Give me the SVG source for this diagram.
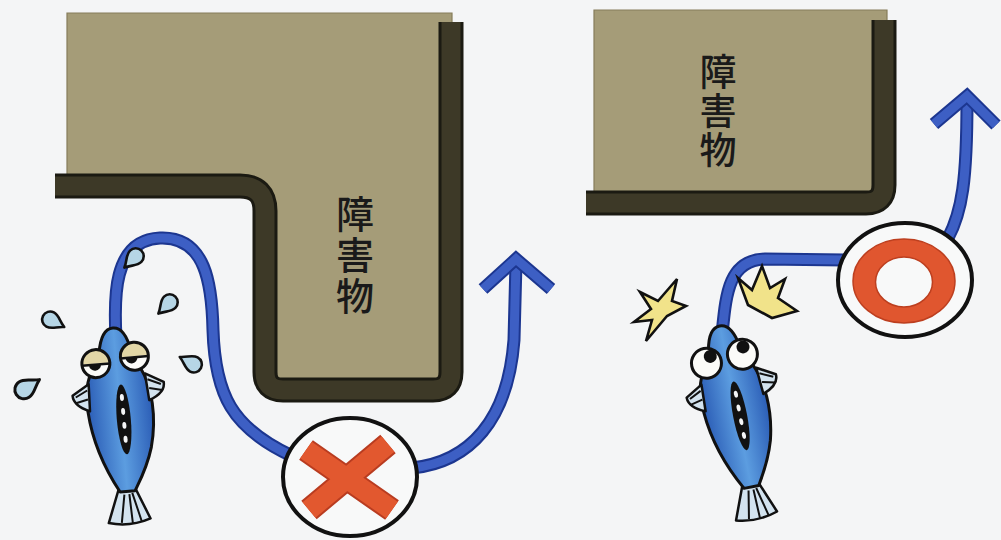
<svg xmlns="http://www.w3.org/2000/svg" width="1001" height="540" viewBox="0 0 1001 540">
  <style>
    .bg{fill:#f4f5f6}
    .block{fill:#a59c78;stroke:#857c5a;stroke-width:1.2}
    .wall-edge{fill:none;stroke:#1b1a12;stroke-width:25}
    .wall-core{fill:none;stroke:#3d3927;stroke-width:19}
    .label{font-family:"Noto Sans CJK JP","Noto Sans CJK SC",sans-serif;font-weight:500;fill:#1a1a1a;writing-mode:vertical-rl}
    .flow-edge{fill:none;stroke:#1c3690;stroke-width:13}
    .flow-core{fill:none;stroke:#3d5fc4;stroke-width:9}
    .ink{stroke:#111;stroke-width:3;stroke-linejoin:round}
    .thin{fill:none;stroke:#111;stroke-width:2}
    .badge{fill:#f8f9f9;stroke:#111;stroke-width:4}
    .cross-edge{stroke:#b93c20;stroke-width:24}
    .cross-core{stroke:#e2582f;stroke-width:20}
    .ring{fill:#e0562f;stroke:#bd3f1f;stroke-width:1.5}
    .drop{fill:#b6d6e6;stroke:#111;stroke-width:2.6;stroke-linejoin:round}
    .spark{fill:#f1e38a;stroke:#111;stroke-width:2.6;stroke-linejoin:miter}
    .fin{fill:#d3e3ef;stroke:#111;stroke-width:2.5;stroke-linejoin:round}
  </style>
  <defs>
    <linearGradient id="scale" x1="0" y1="0" x2="1" y2="0">
      <stop offset="0" stop-color="#2b5db6"/>
      <stop offset="0.5" stop-color="#5c9de0"/>
      <stop offset="1" stop-color="#2b5db6"/>
    </linearGradient>
    <path id="drop" d="M0 -15 C3 -8 8 -5 8 1 A8 8 0 1 1 -8 1 C-8 -5 -3 -8 0 -15 Z"/>
    <!-- fish body, head at origin, tail pointing down -->
    <g id="fishBody">
      <path class="fin" d="M-7 156 L-21 192 Q0 198 21 191 L7 156 Z"/>
      <path class="thin" d="M-3 165 L-8 193 M2 165 L3 195 M5 164 L12 193"/>
      <path class="ink" fill="url(#scale)" d="M0 -2 C10 -2 14 10 16 22 L24 40 C34 60 36 90 28 120 C22 140 14 152 8 162 L-7 162 C-19 140 -30 110 -32 80 C-34 55 -28 42 -18 30 L-16 22 C-14 10 -10 -2 0 -2 Z"/>
      <path class="fin" d="M-29 52 L-46 62 Q-46 72 -30 79 Z"/>
      <path class="thin" d="M-31 58 L-43 64 M-31 67 L-44 70"/>
      <path class="fin" d="M28 46 L46 56 Q47 67 30 73 Z"/>
      <path class="thin" d="M30 52 L43 58 M31 61 L44 64"/>
      <ellipse cx="3" cy="90" rx="7" ry="35" fill="#111"/>
      <g fill="#f4f5f6">
        <ellipse cx="3" cy="68" rx="2" ry="3.5"/>
        <ellipse cx="3" cy="82" rx="2" ry="3.5"/>
        <ellipse cx="3" cy="96" rx="2" ry="3.5"/>
        <ellipse cx="3" cy="110" rx="2" ry="3.5"/>
      </g>
    </g>
  </defs>

  <rect class="bg" x="0" y="0" width="1001" height="540"/>

  <!-- left obstacle: L-shaped block with a bent wall -->
  <g id="obstacle-left">
    <path class="block" d="M67 13 H452 V390 H265 V186 H67 Z"/>
    <path class="wall-edge" d="M55 186 H240 Q265 186 265 211 V372 Q265 390 283 390 H433 Q451 390 451 372 V22"/>
    <path class="wall-core" d="M55 186 H240 Q265 186 265 211 V372 Q265 390 283 390 H433 Q451 390 451 372 V22"/>
    <text class="label" x="355" y="195" font-size="38" letter-spacing="3">障害物</text>
  </g>

  <!-- right obstacle: plain block with a corner wall -->
  <g id="obstacle-right">
    <path class="block" d="M594 10 H887 V203 H594 Z"/>
    <path class="wall-edge" d="M586 203 H866 Q884 203 884 185 V20"/>
    <path class="wall-core" d="M586 203 H866 Q884 203 884 185 V20"/>
    <text class="label" x="718" y="53" font-size="37" letter-spacing="2">障害物</text>
  </g>

  <!-- swimming routes -->
  <g id="connectors">
    <g id="route-left">
      <path class="flow-edge" d="M116 338 C114 300 112 240 160 238 C206 236 212 285 213 330 C215 395 232 428 292 456"/>
      <path class="flow-core" d="M116 338 C114 300 112 240 160 238 C206 236 212 285 213 330 C215 395 232 428 292 456"/>
      <path class="flow-edge" d="M412 468 C470 462 508 420 514 340 L516 262"/>
      <path class="flow-core" d="M412 468 C470 462 508 420 514 340 L516 262"/>
      <path class="flow-edge" d="M483 289 L516 259 L551 289"/>
      <path class="flow-core" d="M483 289 L516 259 L551 289"/>
    </g>
    <g id="route-right">
      <path class="flow-edge" d="M722 334 C726 295 728 260 765 259 L845 260"/>
      <path class="flow-core" d="M722 334 C726 295 728 260 765 259 L845 260"/>
      <path class="flow-edge" d="M948 238 C962 212 967 180 967 100"/>
      <path class="flow-core" d="M948 238 C962 212 967 180 967 100"/>
      <path class="flow-edge" d="M934 124 L967 96 L996 125"/>
      <path class="flow-core" d="M934 124 L967 96 L996 125"/>
    </g>
  </g>

  <!-- wrong-way mark -->
  <g id="mark-x">
    <ellipse class="badge" cx="350" cy="477" rx="67" ry="59"/>
    <path class="cross-edge" d="M306 450 L392 510 M388 444 L309 510"/>
    <path class="cross-core" d="M306 450 L392 510 M388 444 L309 510"/>
  </g>

  <!-- right-way mark -->
  <g id="mark-o">
    <ellipse class="badge" cx="905" cy="280" rx="67" ry="57"/>
    <path class="ring" fill-rule="evenodd" d="M853 281 a51 42 0 1 0 102 0 a51 42 0 1 0 -102 0 Z M875.5 282 a28.5 25 0 1 0 57 0 a28.5 25 0 1 0 -57 0 Z"/>
  </g>

  <!-- tired fish with sweat drops -->
  <g id="fish-left">
    <g transform="translate(113 330) rotate(-5)">
      <use href="#fishBody"/>
      <g>
        <circle cx="-20" cy="32" r="14" fill="#fbfbf8"/>
        <path d="M-34 32 A14 14 0 0 1 -6 32 Z" fill="#e2d6a6"/>
        <path d="M-27 33 A6 6 0 0 0 -15 33 Z" fill="#111"/>
        <line x1="-34" y1="33" x2="-6" y2="33" stroke="#111" stroke-width="2.5"/>
        <circle cx="-20" cy="32" r="14" fill="none" stroke="#111" stroke-width="3"/>
        <circle cx="19" cy="28" r="14" fill="#fbfbf8"/>
        <path d="M5 28 A14 14 0 0 1 33 28 Z" fill="#e2d6a6"/>
        <path d="M10 29 A6 6 0 0 0 22 29 Z" fill="#111"/>
        <line x1="5" y1="29" x2="33" y2="29" stroke="#111" stroke-width="2.5"/>
        <circle cx="19" cy="28" r="14" fill="none" stroke="#111" stroke-width="3"/>
      </g>
    </g>
    <g id="sweat">
      <use href="#drop" class="drop" transform="translate(135 257) rotate(225)"/>
      <use href="#drop" class="drop" transform="translate(169 303) rotate(225)"/>
      <use href="#drop" class="drop" transform="translate(51 320) rotate(118)"/>
      <use href="#drop" class="drop" transform="translate(25 389) rotate(57) scale(1.15)"/>
      <use href="#drop" class="drop" transform="translate(193 364) rotate(-62)"/>
    </g>
  </g>

  <!-- bumped fish with sparks -->
  <g id="fish-right">
    <g transform="translate(720 328) rotate(-11)">
      <use href="#fishBody"/>
      <circle cx="-20" cy="32" r="15" fill="#fbfbf8" stroke="#111" stroke-width="3"/>
      <circle cx="-15" cy="26" r="6.5" fill="#111"/>
      <circle cx="17" cy="30" r="15" fill="#fbfbf8" stroke="#111" stroke-width="3"/>
      <circle cx="19" cy="23" r="6.5" fill="#111"/>
    </g>
    <g id="sparks">
      <polygon class="spark" points="640,292 658,301 677,279 672,301 686,306 667,316 646,341 652,320 634,322 651,309"/>
      <polygon class="spark" points="738,278 752,290 762,266 770,288 785,279 778,298 797,311 772,318 748,305"/>
    </g>
  </g>
</svg>
